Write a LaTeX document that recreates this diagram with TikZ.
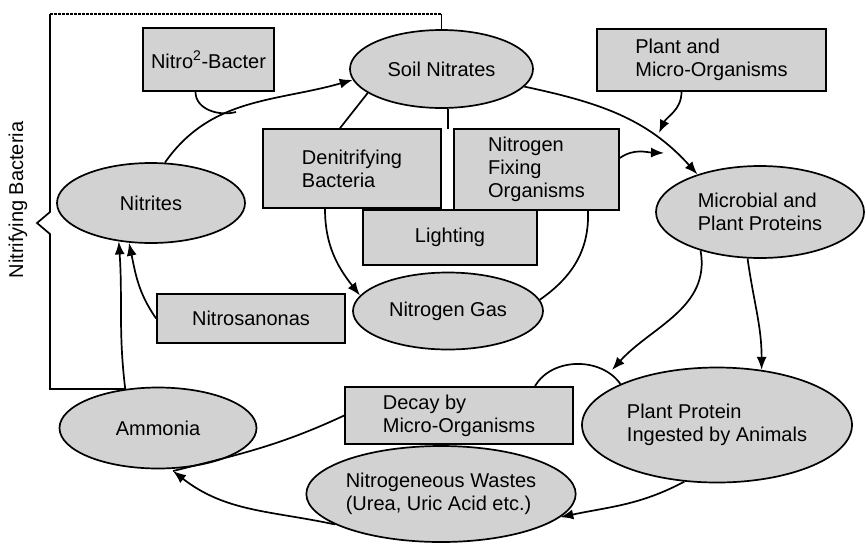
\documentclass[tikz,border=0pt]{standalone}
\usepackage{fontspec}
\setmainfont{Liberation Sans}
\usetikzlibrary{shapes.geometric, arrows.meta}
\definecolor{boxgray}{RGB}{210,210,210}
\tikzset{block/.style = {draw, fill=boxgray, inner sep=0pt, align=left}}
\tikzset{pool/.style = {draw, fill=boxgray, ellipse, inner sep=0pt, align=left}}
\tikzset{flow/.style = {-{Latex[length=13pt, width=10pt]}}}

\begin{document}
\begin{tikzpicture}[x=1pt, y=-1pt, line width=1.7pt, font=\fontsize{20}{23}\selectfont]
			\useasboundingbox (0,0) rectangle (866,557);
			% Soil nitrates
			\node [pool, minimum width=183pt, minimum height=78pt] (soil) at (441.5,69) {Soil Nitrates};
			% Nitrites
			\node [pool, minimum width=188pt, minimum height=80pt] (nitrites) at (151,203) {Nitrites};
			% Proteins
			\node [pool, minimum width=208pt, minimum height=92pt] (microbial) at (760,212) {Microbial and\\Plant Proteins};
			\node [pool, minimum width=270pt, minimum height=115pt] (animals) at (717,425) {Plant Protein\\Ingested by Animals};
			% Nitrogen gas
			\node [pool, minimum width=190pt, minimum height=77pt] (gas) at (448,311) {Nitrogen Gas};
			% Ammonia
			\node [pool, minimum width=197pt, minimum height=81pt] (ammonia) at (158,428) {Ammonia};
			% Wastes
			\node [pool, minimum width=268pt, minimum height=96pt] (wastes) at (441,494) {Nitrogeneous Wastes\\(Urea, Uric Acid etc.)};
			% Agents
			\node [block, minimum width=131pt, minimum height=63pt] (bacter) at (208.5,59.5) {Nitro\textsuperscript{2}-Bacter};
			\node [block, minimum width=229pt, minimum height=62pt] (plant) at (711.5,60) {Plant and\\Micro-Organisms};
			\node [block, minimum width=174pt, minimum height=55pt] (lighting) at (450,237.5) {Lighting};
			\node [block, minimum width=178pt, minimum height=79pt] (denit) at (352,168.5) {Denitrifying\\Bacteria};
			\node [block, minimum width=165pt, minimum height=81pt] (fixing) at (536.5,169.5) {Nitrogen\\Fixing\\Organisms};
			\node [block, minimum width=188pt, minimum height=49pt] (nitroso) at (251,318.5) {Nitrosanonas};
			\node [block, minimum width=228pt, minimum height=57pt] (decay) at (459,415.5) {Decay by\\Micro-Organisms};
			% Nitrifying bacteria bracket
			\node [rotate=90] (nitrifying) at (18,200) {Nitrifying Bacteria};
			\coordinate (topleft) at (50,14);
			\coordinate (topright) at (441.5,14);
			\draw (ammonia.130) -- (ammonia.130 -| topleft) -- (50,234) -- (37,223) -- (50,212) -- (topleft);
			\draw [dash pattern=on 2.5pt off 1.5pt] (topleft) -- (topright);
			\draw (topright) -- (soil.north);

			% Nitrites to soil nitrates
			\coordinate (nbjoin) at (236,112);
			\draw [flow] (nitrites.71) to[out=55, in=196] (soil.187);
			\draw (bacter.south) ++(-13pt,0) to[out=-90, in=195] (nbjoin);
			% Soil nitrates to denitrifiers and fixers
			\coordinate (gap) at (448,129);
			\draw (soil.198) -- ([xshift=-12pt]denit.north);
			\draw (soil.south -| gap) -- (gap);
			% Soil nitrates to proteins
			\coordinate (plantend) at (659,133);
			\coordinate (fixend) at (664,153);
			\draw [flow] (soil.348) to[out=-12, in=132] (microbial.149);
			\draw [flow] ([xshift=-30pt]plant.south) to[out=-90, in=65] (plantend);
			\draw [flow] ([yshift=11.5pt]fixing.east) to[out=35, in=178] (fixend);
			% Nitrogen gas
			\draw [flow] ([xshift=-27pt]denit.south) to[out=-90, in=128] (gas.170);
			\draw ([xshift=51.5pt]fixing.south) to[out=-88, in=35] (gas.7);
			% Into nitrites
			\draw [flow] (ammonia.130) to[out=97, in=-86] (nitrites.230);
			\draw [flow] (nitroso.west) to[out=125, in=-78] (nitrites.241);
			% Proteins downwards
			\coordinate (arcend) at (612,370);
			\draw ([xshift=76pt]decay.north) to[out=60, in=125] (animals.157);
			\draw [flow] (microbial.213) to[out=-80, in=48] (arcend);
			\draw [flow] (microbial.255) to[out=-82, in=90] (animals.51);
			% Back to ammonia
			\coordinate (ammend) at (173,471);
			\draw (decay.west) to[out=205, in=14] (ammend);
			\draw [flow] (wastes.196) to[out=168, in=-38] (ammend);
			\draw [flow] (animals.240) to[out=208, in=12] (wastes.349);
		\end{tikzpicture}
\end{document}
